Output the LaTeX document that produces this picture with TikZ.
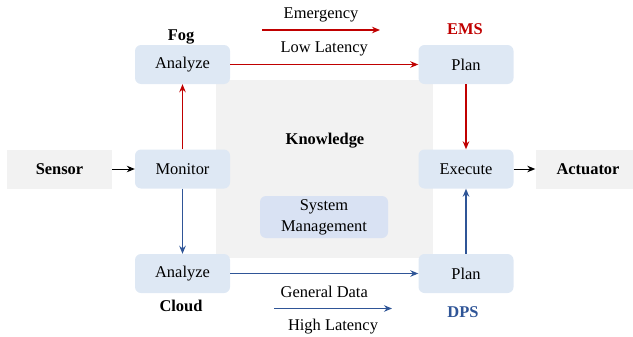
\documentclass[tikz,border=0pt]{standalone}
\usepackage{fontspec}
\setmainfont{Liberation Serif}
\usepackage{xcolor}
\usetikzlibrary{arrows.meta}

\definecolor{emsred}{HTML}{C00000}
\definecolor{dpsblue}{HTML}{2F5597}
\definecolor{boxblue}{HTML}{DEE8F4}
\definecolor{mgmtblue}{HTML}{D9E2F3}
\definecolor{kgray}{HTML}{F2F2F2}

\newcommand{\bodyfont}{\fontsize{16.5}{21}\selectfont}

\tikzset{
  stage/.style={rounded corners=6bp, fill=boxblue, minimum width=95bp, minimum height=39bp, inner sep=0pt},
  device/.style={fill=kgray, minimum width=105bp, minimum height=39bp, inner sep=0pt, font=\bodyfont\bfseries},
  tier/.style={font=\bodyfont\bfseries},
  flow/.style={-{Stealth[length=8bp,width=6.5bp]}, line width=1.3bp},
}

\begin{document}
\begin{tikzpicture}[x=10bp, y=-10bp, font=\bodyfont]
\useasboundingbox (0,0) rectangle (63.3,33.7);
%--- Knowledge area ---
\fill[kgray] (21.6,8.0) rectangle (43.3,25.8);
\node[tier] (know) at (32.5,14.1) {Knowledge};
\node[rounded corners=6bp, fill=mgmtblue, minimum width=128bp, minimum height=42bp,
      inner sep=0pt, align=center] (mgmt) at (32.4,21.7) {System\\Management};
%--- Devices ---
\node[device] (sensor) at (5.95,16.9) {Sensor};
\node[device] (act) at (58.8,16.9) {Actuator};
%--- MAPE stages ---
\node[stage] (mon) at (18.25,16.9) {Monitor};
\node[stage] (fogA) at (18.25,6.45) {Analyze};
\node[stage] (cloudA) at (18.25,27.35) {Analyze};
\node[stage] (planE) at (46.6,6.45) {Plan};
\node[stage] (exe) at (46.6,16.9) {Execute};
\node[stage] (planD) at (46.6,27.35) {Plan};
% Tier labels
\node[tier] (fog) at (18.1,3.7) {Fog};
\node[tier] (cloud) at (18.1,30.6) {Cloud};
\node[tier, text=emsred] (ems) at (46.5,2.9) {EMS};
\node[tier, text=dpsblue] (dps) at (46.3,31.2) {DPS};
%--- Connectors ---
\draw[flow, line width=1bp, black] (sensor) -- (mon);
\draw[flow, line width=1bp, black] (exe) -- (act);
\draw[flow, emsred] (mon) -- (fogA);
\draw[flow, emsred] (planE) -- (exe);
\draw[flow, dpsblue] (mon) -- (cloudA);
\draw[flow, dpsblue] (planD) -- (exe);
\draw[flow, emsred] (fogA) -- node[above=4bp, text=black] (lowlat) {Low Latency} (planE);
\draw[flow, dpsblue] (cloudA) -- node[below=9bp, text=black] (gendata) {General Data} (planD);
% Legend arrows
\coordinate (emS) at (26.2,3.0);
\coordinate (emE) at (38.0,3.0);
\draw[flow, emsred] (emS) -- node[above=4bp, text=black] (emerg) {Emergency} (emE);
\coordinate (hiS) at (27.4,30.85);
\coordinate (hiE) at (39.2,30.85);
\draw[flow, dpsblue] (hiS) -- node[below=7bp, text=black] (hilat) {High Latency} (hiE);
\end{tikzpicture}
\end{document}
